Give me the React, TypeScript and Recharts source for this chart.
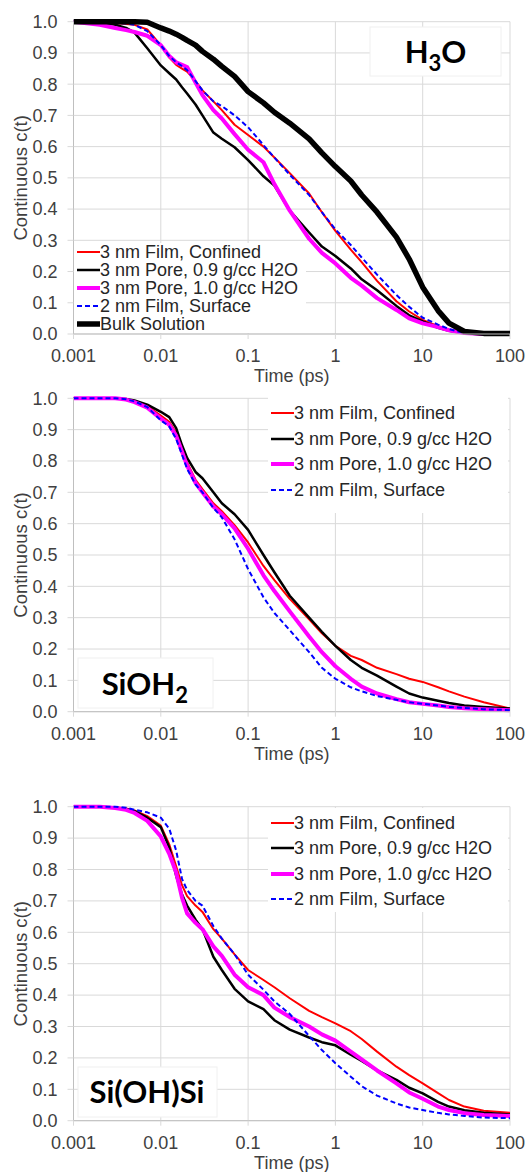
import React from 'react';
import { LineChart, Line, XAxis, YAxis, CartesianGrid, Legend, Customized } from 'recharts';

const FONT = '"Liberation Sans", Arial, sans-serif';
const TITLE_FONT = 'Lato, "Open Sans", sans-serif';

// time grid (ps) the curves were read at
const TIMES = [0.001, 0.002, 0.003, 0.004, 0.005, 0.007, 0.01, 0.0125, 0.015, 0.0175, 0.02, 0.025, 0.03, 0.04, 0.05, 0.07, 0.1, 0.15, 0.2, 0.3, 0.5, 0.7, 1, 1.5, 2, 3, 5, 7, 10, 15, 20, 30, 50, 100];
const X_TICKS = [0.001, 0.01, 0.1, 1, 10, 100];
const Y_TICKS = [0, 0.1, 0.2, 0.3, 0.4, 0.5, 0.6, 0.7, 0.8, 0.9, 1.0];

// H3O panel
const h3oFilm = [1, 0.998, 0.996, 0.993, 0.99, 0.975, 0.925, 0.885, 0.862, 0.85, 0.84, 0.81, 0.78, 0.745, 0.717, 0.67, 0.637, 0.6, 0.565, 0.515, 0.45, 0.39, 0.33, 0.27, 0.23, 0.17, 0.105, 0.072, 0.045, 0.025, 0.014, 0.003, 0, 0];
const h3oPore09 = [1, 0.997, 0.99, 0.98, 0.965, 0.915, 0.86, 0.835, 0.815, 0.79, 0.77, 0.735, 0.7, 0.645, 0.625, 0.598, 0.557, 0.505, 0.475, 0.395, 0.325, 0.28, 0.25, 0.21, 0.175, 0.14, 0.09, 0.06, 0.04, 0.02, 0.01, 0.002, 0, 0];
const h3oPore10 = [1, 0.99, 0.98, 0.973, 0.967, 0.955, 0.925, 0.89, 0.87, 0.862, 0.855, 0.805, 0.765, 0.717, 0.69, 0.64, 0.59, 0.55, 0.48, 0.395, 0.305, 0.26, 0.226, 0.18, 0.155, 0.115, 0.077, 0.05, 0.034, 0.022, 0.012, 0.003, 0, 0];
const h3oSurface = [1, 0.999, 0.997, 0.994, 0.99, 0.97, 0.925, 0.89, 0.87, 0.858, 0.845, 0.81, 0.78, 0.745, 0.73, 0.7, 0.662, 0.605, 0.565, 0.51, 0.445, 0.39, 0.335, 0.285, 0.245, 0.19, 0.125, 0.087, 0.052, 0.03, 0.016, 0.003, 0, 0];
const h3oBulk = [1, 1, 1, 1, 1, 0.998, 0.98, 0.97, 0.96, 0.95, 0.94, 0.925, 0.905, 0.88, 0.857, 0.825, 0.776, 0.74, 0.71, 0.675, 0.625, 0.58, 0.536, 0.49, 0.445, 0.39, 0.31, 0.24, 0.15, 0.075, 0.035, 0.008, 0.002, 0.002];

// SiOH2 panel
const sioh2Film = [1, 1, 1, 0.997, 0.99, 0.975, 0.945, 0.925, 0.89, 0.84, 0.795, 0.74, 0.71, 0.665, 0.64, 0.595, 0.54, 0.465, 0.42, 0.36, 0.295, 0.25, 0.21, 0.178, 0.165, 0.14, 0.12, 0.105, 0.095, 0.078, 0.065, 0.048, 0.03, 0.01];
const sioh2Pore09 = [1, 1, 1, 0.998, 0.993, 0.98, 0.957, 0.94, 0.905, 0.85, 0.81, 0.765, 0.745, 0.7, 0.665, 0.63, 0.58, 0.5, 0.445, 0.37, 0.3, 0.255, 0.21, 0.165, 0.14, 0.115, 0.08, 0.058, 0.045, 0.035, 0.028, 0.02, 0.015, 0.01];
const sioh2Pore10 = [1, 1, 1, 0.996, 0.988, 0.97, 0.935, 0.915, 0.88, 0.83, 0.785, 0.73, 0.7, 0.655, 0.63, 0.585, 0.52, 0.435, 0.385, 0.32, 0.24, 0.19, 0.145, 0.105, 0.08, 0.058, 0.04, 0.03, 0.025, 0.02, 0.015, 0.011, 0.008, 0.005];
const sioh2Surface = [1, 1, 1, 0.997, 0.99, 0.972, 0.93, 0.91, 0.87, 0.82, 0.775, 0.725, 0.7, 0.65, 0.62, 0.55, 0.455, 0.365, 0.315, 0.26, 0.19, 0.14, 0.105, 0.078, 0.065, 0.05, 0.038, 0.03, 0.025, 0.02, 0.015, 0.012, 0.008, 0.005];

// Si(OH)Si panel
const siohsiFilm = [1, 1, 0.998, 0.994, 0.988, 0.97, 0.94, 0.88, 0.81, 0.75, 0.715, 0.685, 0.665, 0.61, 0.58, 0.53, 0.48, 0.448, 0.425, 0.39, 0.35, 0.33, 0.31, 0.285, 0.26, 0.22, 0.172, 0.145, 0.119, 0.088, 0.066, 0.045, 0.032, 0.025];
const siohsiPore09 = [1, 1, 0.997, 0.993, 0.986, 0.965, 0.935, 0.87, 0.78, 0.72, 0.685, 0.64, 0.61, 0.522, 0.48, 0.42, 0.38, 0.355, 0.32, 0.29, 0.265, 0.25, 0.24, 0.21, 0.19, 0.16, 0.13, 0.105, 0.087, 0.06, 0.045, 0.033, 0.025, 0.02];
const siohsiPore10 = [1, 1, 0.996, 0.99, 0.98, 0.955, 0.905, 0.85, 0.79, 0.71, 0.66, 0.63, 0.61, 0.555, 0.525, 0.465, 0.425, 0.4, 0.36, 0.33, 0.3, 0.275, 0.255, 0.22, 0.195, 0.16, 0.119, 0.09, 0.07, 0.045, 0.034, 0.024, 0.018, 0.015];
const siohsiSurface = [1, 1, 1, 0.997, 0.99, 0.982, 0.965, 0.93, 0.86, 0.77, 0.735, 0.7, 0.685, 0.62, 0.58, 0.53, 0.465, 0.417, 0.38, 0.34, 0.27, 0.225, 0.183, 0.14, 0.11, 0.08, 0.055, 0.042, 0.034, 0.025, 0.02, 0.015, 0.01, 0.008];

interface SeriesStyle {
  key: string;
  name: string;
  color: string;
  width: number;
  dash?: string;
}

const SERIES: SeriesStyle[] = [
  { key: 'film', name: '3 nm Film, Confined', color: '#ff0000', width: 2 },
  { key: 'pore09', name: '3 nm Pore, 0.9 g/cc H2O', color: '#000000', width: 2.5 },
  { key: 'pore10', name: '3 nm Pore, 1.0 g/cc H2O', color: '#ff00ff', width: 4 },
  { key: 'surface', name: '2 nm Film, Surface', color: '#0000ff', width: 2, dash: '5 3' },
  { key: 'bulk', name: 'Bulk Solution', color: '#000000', width: 5.5 },
];

type Row = Record<string, number>;

function buildRows(values: Record<string, number[]>): Row[] {
  return TIMES.map((t, i) => {
    const row: Row = { t };
    Object.keys(values).forEach((k) => {
      row[k] = values[k][i];
    });
    return row;
  });
}

const h3oRows = buildRows({ film: h3oFilm, pore09: h3oPore09, pore10: h3oPore10, surface: h3oSurface, bulk: h3oBulk });
const sioh2Rows = buildRows({ film: sioh2Film, pore09: sioh2Pore09, pore10: sioh2Pore10, surface: sioh2Surface });
const siohsiRows = buildRows({ film: siohsiFilm, pore09: siohsiPore09, pore10: siohsiPore10, surface: siohsiSurface });

function LegendBox({ items, rowHeight }: { items: SeriesStyle[]; rowHeight: number }) {
  return (
    <div>
      {items.map((s) => (
        <div key={s.key} style={{ height: rowHeight, display: 'flex', alignItems: 'center', whiteSpace: 'nowrap' }}>
          <svg width={23} height={8} style={{ display: 'block' }}>
            <line x1={0} x2={23} y1={4} y2={4} stroke={s.color} strokeWidth={Math.min(s.width, 6)} strokeDasharray={s.dash} />
          </svg>
          <span style={{ fontFamily: FONT, fontSize: 18, color: '#262626', lineHeight: 1 }}>{s.name}</span>
        </div>
      ))}
    </div>
  );
}

interface TitleProps {
  box: [number, number, number, number];
  cx: number;
  baseline: number;
  children: React.ReactNode;
}

function TitleBox({ box, cx, baseline, children }: TitleProps) {
  return (
    <g>
      <rect x={box[0]} y={box[1]} width={box[2]} height={box[3]} fill="#ffffff" stroke="#f0f0f0" />
      <text x={cx} y={baseline} textAnchor="middle" fontFamily={TITLE_FONT} fontWeight="bold" fontSize={31} fill="#000000">
        {children}
      </text>
    </g>
  );
}

interface PanelProps {
  top: number;
  height: number;
  plotTop: number;
  plotBottom: number;
  rows: Row[];
  series: SeriesStyle[];
  legendBox: { left: number; top: number; width: number; height: number; padTop: number; rowHeight: number };
  title: React.ReactNode;
}

function Panel({ top, height, plotTop, plotBottom, rows, series, legendBox, title }: PanelProps) {
  const marginTop = plotTop - top;
  const marginBottom = height - marginTop - (plotBottom - plotTop) - 30;
  const tickStyle = { fill: '#404040', fontSize: 18, fontFamily: FONT };
  return (
    <div style={{ position: 'absolute', left: 0, top, width: 526, height }}>
      <LineChart width={526} height={height} data={rows} margin={{ top: marginTop, right: 16, bottom: marginBottom, left: 0 }}>
        <CartesianGrid stroke="#d9d9d9" strokeWidth={1} />
        <XAxis
          dataKey="t"
          type="number"
          scale="log"
          domain={[0.001, 100]}
          ticks={X_TICKS}
          interval={0}
          allowDataOverflow
          tickFormatter={(v: number) => String(v)}
          tick={tickStyle}
          tickSize={5}
          tickMargin={10.5}
          tickLine={{ stroke: '#d9d9d9' }}
          axisLine={{ stroke: '#bfbfbf' }}
          height={30}
          label={{ value: 'Time (ps)', position: 'bottom', offset: 5.5, fill: '#404040', fontSize: 18, fontFamily: FONT }}
        />
        <YAxis
          type="number"
          domain={[0, 1]}
          ticks={Y_TICKS}
          interval={0}
          tickFormatter={(v: number) => v.toFixed(1)}
          tick={tickStyle}
          tickSize={6}
          tickMargin={10}
          tickLine={{ stroke: '#d9d9d9' }}
          axisLine={{ stroke: '#bfbfbf' }}
          width={73.5}
          label={{
            value: 'Continuous c(t)',
            angle: -90,
            position: 'insideLeft',
            offset: 20,
            fill: '#404040',
            fontSize: 18.5,
            fontFamily: FONT,
            style: { textAnchor: 'middle' },
          }}
        />
        <Customized component={() => title} />
        {series.map((s) => (
          <Line
            key={s.key}
            dataKey={s.key}
            name={s.name}
            type="linear"
            stroke={s.color}
            strokeWidth={s.width}
            strokeDasharray={s.dash}
            strokeLinejoin="round"
            dot={false}
            activeDot={false}
            isAnimationActive={false}
          />
        ))}
        <Legend
          layout="vertical"
          align="center"
          verticalAlign="middle"
          wrapperStyle={{
            left: legendBox.left,
            top: legendBox.top,
            width: legendBox.width,
            height: legendBox.height,
            paddingTop: legendBox.padTop,
            paddingLeft: 3,
            boxSizing: 'border-box',
            background: '#ffffff',
          }}
          content={() => <LegendBox items={series} rowHeight={legendBox.rowHeight} />}
        />
      </LineChart>
    </div>
  );
}

export default function App() {
  const four = SERIES.slice(0, 4);
  return (
    <div style={{ position: 'absolute', left: 0, top: 0, width: 526, height: 1172, background: '#ffffff' }}>
      <Panel
        top={0}
        height={400}
        plotTop={21.7}
        plotBottom={334}
        rows={h3oRows}
        series={SERIES}
        legendBox={{ left: 74, top: 242.6, width: 232, height: 90.5, padTop: 0, rowHeight: 18.1 }}
        title={
          <TitleBox box={[370, 27, 131, 49]} cx={435.5} baseline={63.3}>
            H<tspan dy={8} fontSize={22}>3</tspan><tspan dy={-8}>O</tspan>
          </TitleBox>
        }
      />
      <Panel
        top={385}
        height={400}
        plotTop={398.3}
        plotBottom={711.7}
        rows={sioh2Rows}
        series={four}
        legendBox={{ left: 268, top: 12, width: 240, height: 116, padTop: 3.6, rowHeight: 25.5 }}
        title={
          <TitleBox box={[78, 273, 135, 50]} cx={144.8} baseline={310}>
            SiOH<tspan dy={8} fontSize={22}>2</tspan>
          </TitleBox>
        }
      />
      <Panel
        top={770}
        height={402}
        plotTop={806.7}
        plotBottom={1120.7}
        rows={siohsiRows}
        series={four}
        legendBox={{ left: 268, top: 38, width: 240, height: 104, padTop: 2, rowHeight: 25.5 }}
        title={
          <TitleBox box={[78, 297, 139, 50]} cx={147} baseline={333}>
            Si(OH)Si
          </TitleBox>
        }
      />
    </div>
  );
}
